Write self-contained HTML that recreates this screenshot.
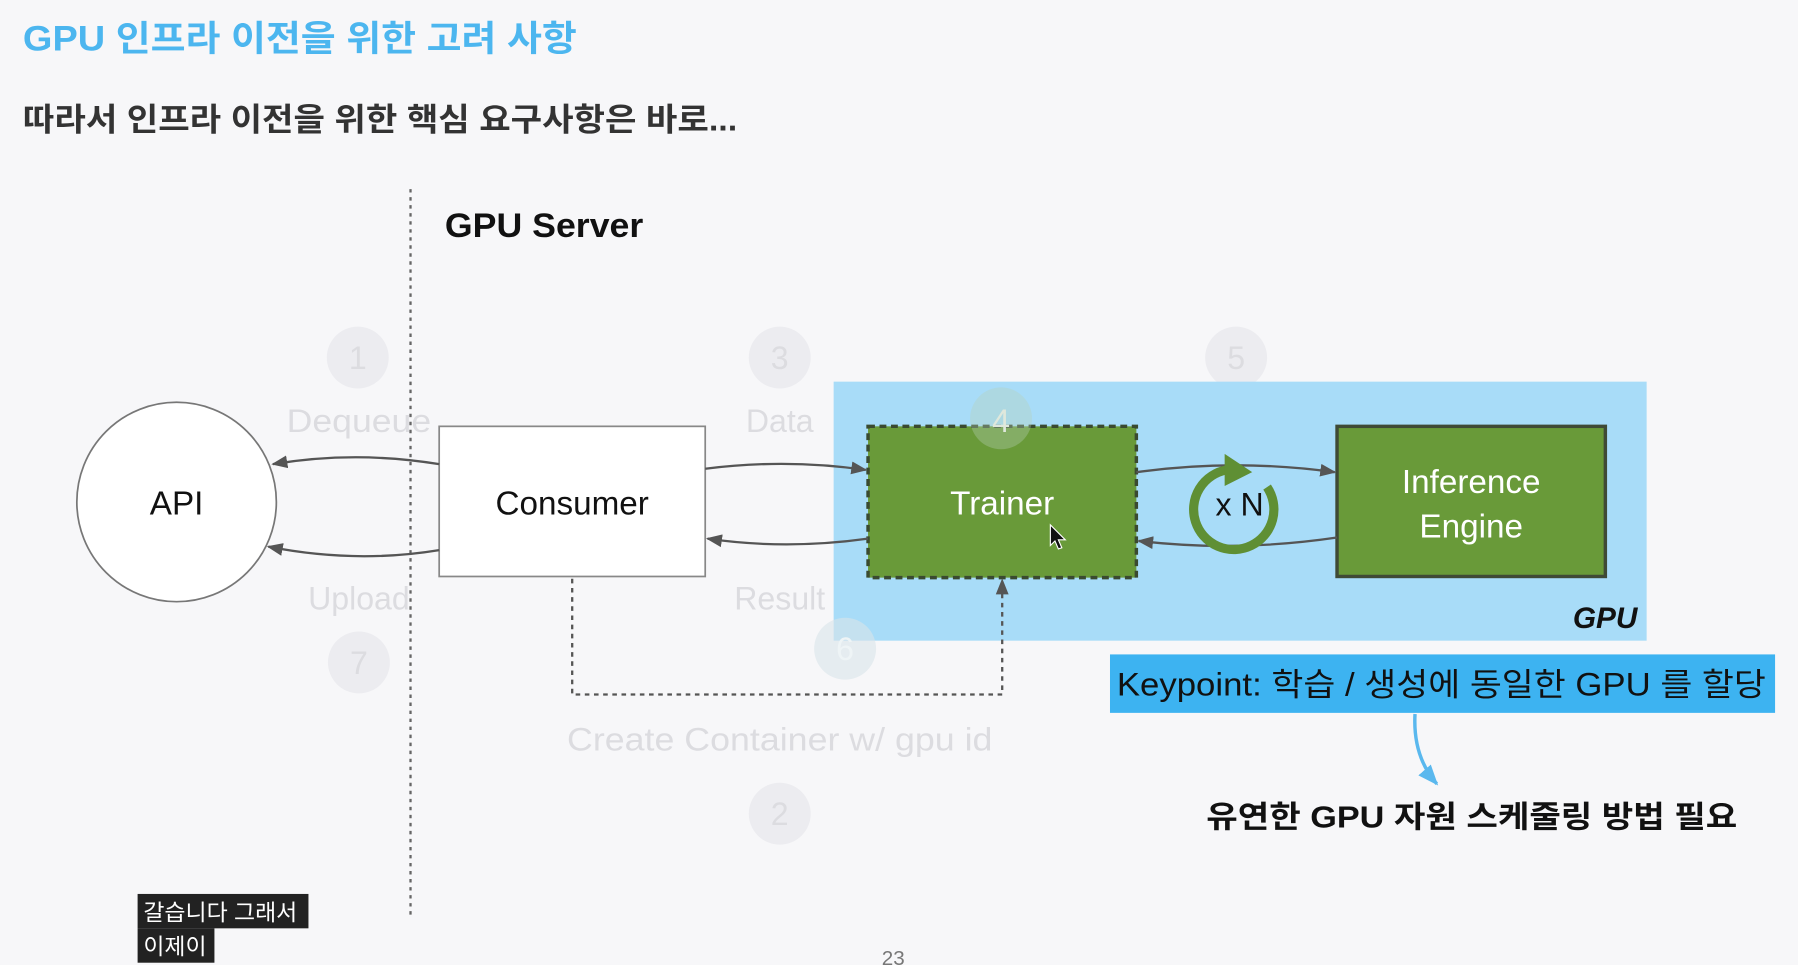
<!DOCTYPE html>
<html><head><meta charset="utf-8"><style>
html,body{margin:0;padding:0;background:#f7f7f9;}
svg{display:block;}
text{font-family:"Liberation Sans","Noto Sans CJK KR",sans-serif;}
</style></head><body>
<svg width="1798" height="965" viewBox="0 0 1568 842" preserveAspectRatio="none" xmlns="http://www.w3.org/2000/svg">
<defs>
<marker id="ah" viewBox="0 0 10 10" refX="9" refY="5" markerWidth="7" markerHeight="7" orient="auto"><path d="M0,1 L10,5 L0,9 z" fill="#555"/></marker>
<marker id="ab" viewBox="0 0 10 10" refX="9" refY="5" markerWidth="6" markerHeight="6" orient="auto"><path d="M0,1 L10,5 L0,9 z" fill="#5ab8ee"/></marker>
</defs>
<rect width="1568" height="842" fill="#f7f7f9"/>
<text x="20" y="44" font-size="31" font-weight="bold" fill="#4cb6ef" textLength="483" lengthAdjust="spacingAndGlyphs">GPU 인프라 이전을 위한 고려 사항</text>
<text x="20" y="114" font-size="28" font-weight="bold" fill="#333" textLength="623" lengthAdjust="spacingAndGlyphs">따라서 인프라 이전을 위한 핵심 요구사항은 바로...</text>
<line x1="358" y1="165" x2="358" y2="800" stroke="#666" stroke-width="2" stroke-dasharray="3,4"/>
<text x="388" y="207" font-size="30" font-weight="bold" fill="#111" textLength="173" lengthAdjust="spacingAndGlyphs">GPU Server</text>

<g fill="#ececf0"><circle cx="312" cy="312" r="27"/><circle cx="680" cy="312" r="27"/><circle cx="1078" cy="312" r="27"/><circle cx="313" cy="578" r="27"/><circle cx="680" cy="710" r="27"/></g>
<g fill="#dcdce0" font-size="28" text-anchor="middle">
<text x="312" y="322">1</text><text x="680" y="322">3</text><text x="1078" y="322">5</text><text x="313" y="588">7</text><text x="680" y="720">2</text>
<text x="313" y="377" textLength="126" lengthAdjust="spacingAndGlyphs">Dequeue</text><text x="680" y="377">Data</text><text x="1078" y="377" textLength="130" lengthAdjust="spacingAndGlyphs">Generate</text>
<text x="313" y="532">Upload</text><text x="680" y="532">Result</text><text x="1078" y="532">Result</text>
<text x="680" y="655" textLength="371" lengthAdjust="spacingAndGlyphs">Create Container w/ gpu id</text>
</g>

<circle cx="154" cy="438" r="87" fill="#fff" stroke="#777" stroke-width="1.5"/>
<text x="154" y="449" font-size="29" text-anchor="middle" fill="#111">API</text>
<rect x="383" y="372" width="232" height="131" fill="#fff" stroke="#888" stroke-width="1.5"/>
<text x="499" y="449" font-size="29" text-anchor="middle" fill="#111">Consumer</text>

<rect x="727" y="333" width="709" height="226" fill="#a8dcf8"/>
<rect x="757" y="372" width="234" height="132" fill="#699a39" stroke="#3a4a30" stroke-width="3" stroke-dasharray="6,4"/>
<circle cx="873" cy="365" r="27" fill="#b8d0b8" opacity="0.35"/>
<text x="873" y="377" font-size="28" text-anchor="middle" fill="#dfe8dc">4</text>
<circle cx="737" cy="566" r="27" fill="#d8e4ea" opacity="0.6"/>
<text x="737" y="576" font-size="28" text-anchor="middle" fill="#eef4f6">6</text>
<text x="874" y="449" font-size="29" text-anchor="middle" fill="#fff">Trainer</text>
<rect x="1166" y="372" width="234" height="131" fill="#699a39" stroke="#3f4a36" stroke-width="3"/>
<text x="1283" y="430" font-size="29" text-anchor="middle" fill="#fff">Inference</text>
<text x="1283" y="469" font-size="29" text-anchor="middle" fill="#fff">Engine</text>
<text x="1428" y="548" font-size="26" font-weight="bold" font-style="italic" text-anchor="end" fill="#111">GPU</text>

<g fill="none" stroke="#555" stroke-width="2">
<path d="M383,405 Q310,393 238,405" marker-end="url(#ah)"/>
<path d="M383,480 Q310,492 234,477" marker-end="url(#ah)"/>
<path d="M615,409 Q685,400 755,410" marker-end="url(#ah)"/>
<path d="M757,470 Q685,480 617,470" marker-end="url(#ah)"/>
<path d="M991,412 Q1078,400 1164,412" marker-end="url(#ah)"/>
<path d="M1166,469 Q1078,482 993,472" marker-end="url(#ah)"/>
<path d="M499,505 L499,606 L874,606 L874,506" stroke-dasharray="4,4" marker-end="url(#ah)"/>
</g>
<path d="M1070,410 A35,35 0 1 0 1105,425" fill="none" stroke="#5f8f34" stroke-width="8"/>
<path d="M1068,396 L1092,412 L1068,424 z" fill="#5f8f34"/>
<text x="1081" y="450" font-size="28" text-anchor="middle" fill="#111">x N</text>

<rect x="968" y="571" width="580" height="51" fill="#3db3f1"/>
<text x="974" y="607" font-size="28" fill="#111" textLength="566" lengthAdjust="spacingAndGlyphs">Keypoint: 학습 / 생성에 동일한 GPU 를 할당</text>
<path d="M1234,623 Q1232,660 1253,684" fill="none" stroke="#5ab8ee" stroke-width="3" marker-end="url(#ab)"/>
<text x="1052" y="722" font-size="27" font-weight="bold" fill="#111" textLength="463" lengthAdjust="spacingAndGlyphs">유연한 GPU 자원 스케줄링 방법 필요</text>

<path d="M916,458 l0,18 l4,-4 l3,7 l3,-1 l-3,-7 l6,0 z" fill="#111" stroke="#fff" stroke-width="1"/>

<rect x="120" y="780" width="149" height="30" fill="#222"/>
<text x="125" y="803" font-size="20" fill="#fff">갈습니다 그래서</text>
<rect x="120" y="810" width="67" height="30" fill="#222"/>
<text x="125" y="833" font-size="20" fill="#fff">이제이</text>
<text x="779" y="842" font-size="18" text-anchor="middle" fill="#777">23</text>
</svg>
</body></html>
